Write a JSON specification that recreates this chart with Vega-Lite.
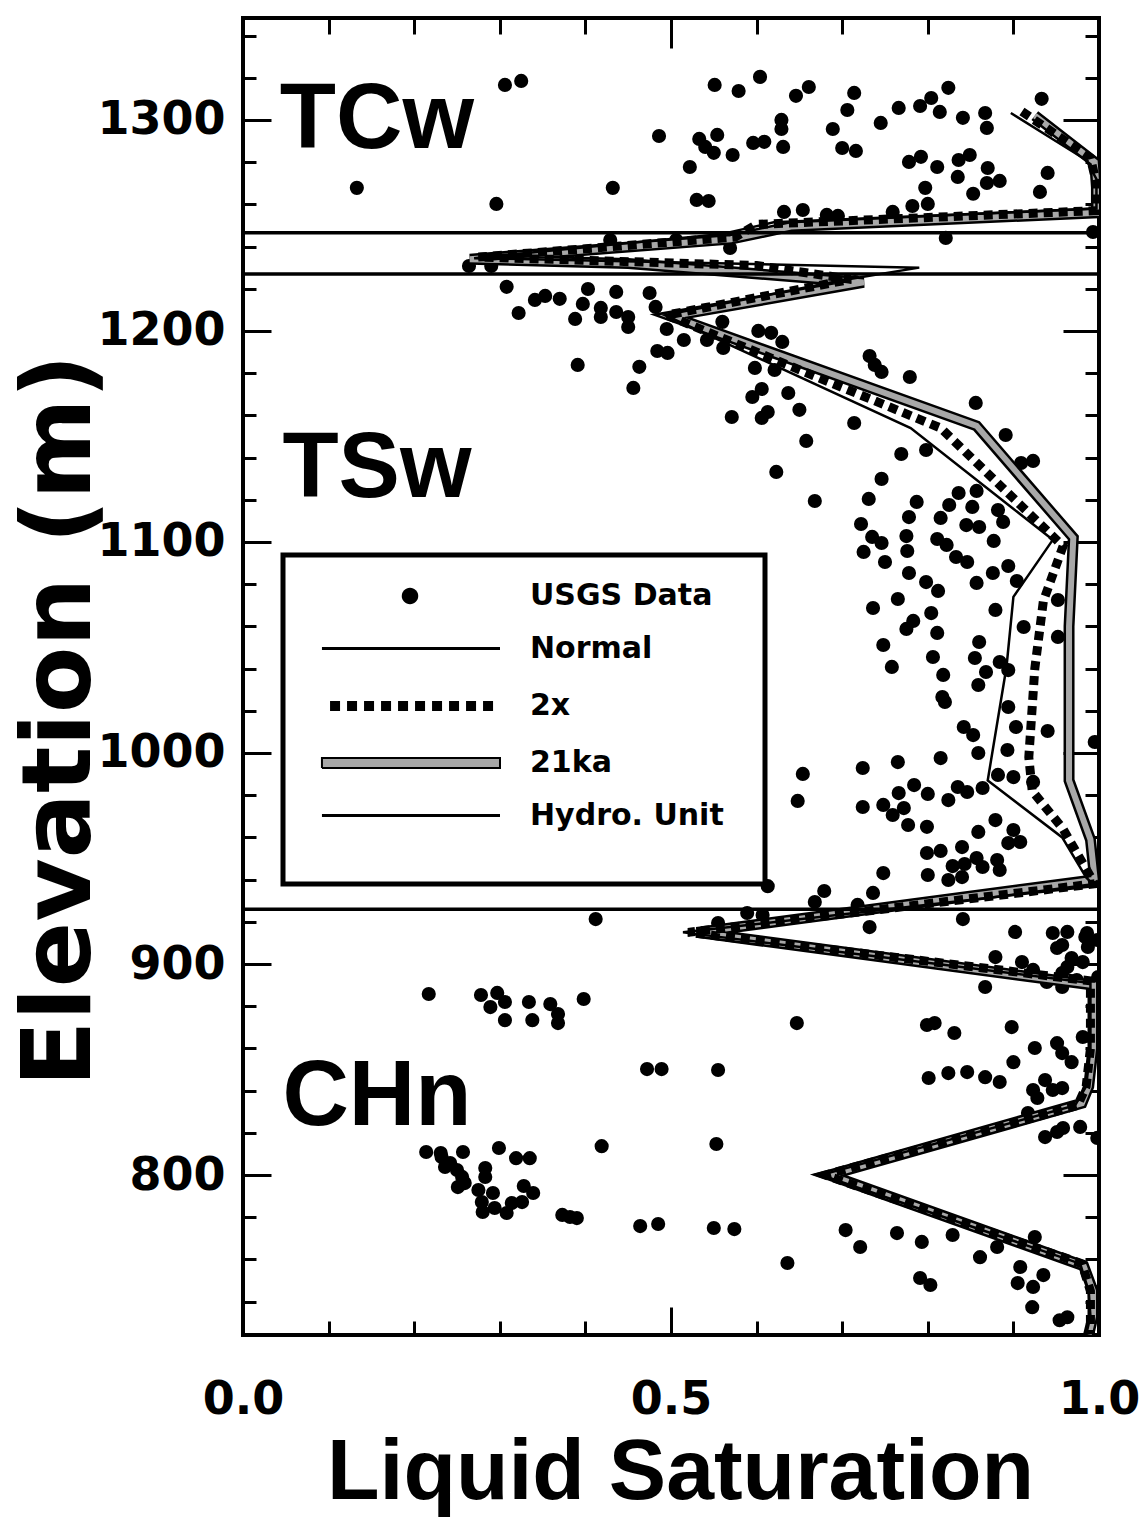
{
  "$schema": "https://vega.github.io/schema/vega-lite/v6.json",
  "width": 856,
  "height": 1317,
  "autosize": "none",
  "padding": {"left": 243, "top": 18, "right": 42, "bottom": 183},
  "background": "white",
  "config": {
    "view": {"stroke": "black", "strokeWidth": 4},
    "axis": {"domain": false, "grid": false, "tickColor": "black", "tickWidth": 3, "labelColor": "black", "titleColor": "black"},
    "legend": {"strokeWidth": 5}
  },
  "datasets": {
    "usgs": [
      {"sat":0.551,"elev":1316.6},{"sat":0.579,"elev":1313.7},{"sat":0.604,"elev":1320.4},{"sat":0.646,"elev":1311.4},{"sat":0.661,"elev":1315.6},{"sat":0.714,"elev":1312.8},{"sat":0.706,"elev":1304.7},{"sat":0.766,"elev":1305.7},{"sat":0.791,"elev":1306.6},{"sat":0.804,"elev":1310.4},{"sat":0.824,"elev":1315.2},{"sat":0.814,"elev":1303.8},{"sat":0.841,"elev":1301.0},{"sat":0.867,"elev":1303.3},{"sat":0.869,"elev":1296.2},{"sat":0.933,"elev":1310.0},{"sat":0.940,"elev":1274.9},{"sat":0.931,"elev":1265.9},{"sat":0.486,"elev":1292.4},{"sat":0.533,"elev":1291.0},{"sat":0.554,"elev":1292.9},{"sat":0.540,"elev":1287.2},{"sat":0.550,"elev":1284.4},{"sat":0.572,"elev":1283.4},{"sat":0.522,"elev":1277.7},{"sat":0.596,"elev":1289.1},{"sat":0.609,"elev":1289.6},{"sat":0.629,"elev":1300.0},{"sat":0.629,"elev":1295.7},{"sat":0.631,"elev":1287.2},{"sat":0.689,"elev":1295.7},{"sat":0.745,"elev":1298.6},{"sat":0.700,"elev":1286.7},{"sat":0.716,"elev":1285.3},{"sat":0.432,"elev":1267.8},{"sat":0.530,"elev":1262.1},{"sat":0.544,"elev":1261.6},{"sat":0.632,"elev":1256.4},{"sat":0.654,"elev":1257.3},{"sat":0.778,"elev":1280.1},{"sat":0.792,"elev":1282.5},{"sat":0.811,"elev":1277.7},{"sat":0.836,"elev":1281.0},{"sat":0.849,"elev":1283.4},{"sat":0.835,"elev":1273.0},{"sat":0.870,"elev":1277.2},{"sat":0.869,"elev":1270.1},{"sat":0.884,"elev":1271.1},{"sat":0.853,"elev":1265.0},{"sat":0.797,"elev":1267.8},{"sat":0.800,"elev":1260.2},{"sat":0.782,"elev":1259.2},{"sat":0.821,"elev":1244.1},{"sat":0.993,"elev":1246.9},{"sat":0.682,"elev":1255.0},{"sat":0.695,"elev":1254.5},{"sat":0.759,"elev":1256.4},{"sat":0.133,"elev":1267.8},{"sat":0.306,"elev":1316.6},{"sat":0.325,"elev":1318.5},{"sat":0.296,"elev":1260.2},
      {"sat":0.264,"elev":1230.8},{"sat":0.290,"elev":1230.8},{"sat":0.429,"elev":1243.1},{"sat":0.506,"elev":1243.1},{"sat":0.569,"elev":1239.3},
      {"sat":0.308,"elev":1220.9},{"sat":0.322,"elev":1208.5},{"sat":0.341,"elev":1214.7},{"sat":0.353,"elev":1216.6},{"sat":0.370,"elev":1215.2},{"sat":0.403,"elev":1219.9},{"sat":0.397,"elev":1212.8},{"sat":0.388,"elev":1205.7},{"sat":0.418,"elev":1210.9},{"sat":0.418,"elev":1206.6},{"sat":0.436,"elev":1218.5},{"sat":0.436,"elev":1209.0},{"sat":0.450,"elev":1206.6},{"sat":0.450,"elev":1201.9},{"sat":0.475,"elev":1218.0},{"sat":0.482,"elev":1211.4},{"sat":0.495,"elev":1200.9},{"sat":0.515,"elev":1195.7},{"sat":0.484,"elev":1190.5},{"sat":0.496,"elev":1189.6},{"sat":0.391,"elev":1183.9},{"sat":0.463,"elev":1183.0},{"sat":0.456,"elev":1173.0},{"sat":0.542,"elev":1195.7},{"sat":0.561,"elev":1191.9},{"sat":0.602,"elev":1200.0},{"sat":0.617,"elev":1199.1},{"sat":0.630,"elev":1194.8},{"sat":0.598,"elev":1182.5},{"sat":0.621,"elev":1181.5},{"sat":0.606,"elev":1172.5},{"sat":0.595,"elev":1168.7},{"sat":0.613,"elev":1161.6},{"sat":0.606,"elev":1158.8},{"sat":0.637,"elev":1170.6},{"sat":0.650,"elev":1162.6},{"sat":0.571,"elev":1159.2},{"sat":0.658,"elev":1147.9},{"sat":0.623,"elev":1133.2},{"sat":0.668,"elev":1119.4},{"sat":0.732,"elev":1188.1},{"sat":0.738,"elev":1183.9},{"sat":0.746,"elev":1180.6},{"sat":0.779,"elev":1178.2},{"sat":0.714,"elev":1156.4},{"sat":0.769,"elev":1141.7},{"sat":0.746,"elev":1129.9},{"sat":0.731,"elev":1120.4},{"sat":0.787,"elev":1119.0},{"sat":0.778,"elev":1111.8},{"sat":0.722,"elev":1108.5},{"sat":0.735,"elev":1102.4},{"sat":0.746,"elev":1099.5},{"sat":0.775,"elev":1102.8},{"sat":0.715,"elev":1223.2},{"sat":0.560,"elev":1204.3},
      {"sat":0.856,"elev":1165.9},{"sat":0.798,"elev":1143.6},{"sat":0.891,"elev":1150.7},{"sat":0.909,"elev":1137.4},{"sat":0.923,"elev":1138.4},{"sat":0.825,"elev":1117.5},{"sat":0.836,"elev":1123.2},{"sat":0.857,"elev":1124.2},{"sat":0.852,"elev":1116.6},{"sat":0.815,"elev":1111.4},{"sat":0.845,"elev":1108.0},{"sat":0.860,"elev":1107.1},{"sat":0.882,"elev":1115.1},{"sat":0.888,"elev":1109.5},{"sat":0.877,"elev":1100.5},{"sat":0.776,"elev":1095.7},{"sat":0.725,"elev":1095.3},{"sat":0.750,"elev":1090.5},{"sat":0.778,"elev":1085.3},{"sat":0.811,"elev":1101.4},{"sat":0.822,"elev":1098.6},{"sat":0.833,"elev":1092.9},{"sat":0.846,"elev":1090.5},{"sat":0.798,"elev":1081.0},{"sat":0.812,"elev":1076.8},{"sat":0.857,"elev":1080.6},{"sat":0.876,"elev":1085.3},{"sat":0.894,"elev":1088.6},{"sat":0.904,"elev":1081.5},{"sat":0.765,"elev":1073.0},{"sat":0.736,"elev":1068.7},{"sat":0.804,"elev":1066.3},{"sat":0.783,"elev":1062.6},{"sat":0.879,"elev":1067.8},{"sat":0.811,"elev":1056.9},{"sat":0.775,"elev":1058.8},{"sat":0.860,"elev":1052.6},{"sat":0.912,"elev":1059.7},{"sat":0.952,"elev":1055.0},{"sat":0.952,"elev":1072.5},{"sat":0.748,"elev":1051.2},{"sat":0.758,"elev":1040.8},{"sat":0.806,"elev":1045.5},{"sat":0.855,"elev":1045.0},{"sat":0.884,"elev":1043.1},{"sat":0.818,"elev":1037.0},{"sat":0.868,"elev":1038.4},{"sat":0.894,"elev":1039.3},
      {"sat":0.859,"elev":1032.2},{"sat":0.817,"elev":1026.5},{"sat":0.820,"elev":1024.2},{"sat":0.894,"elev":1021.8},{"sat":0.842,"elev":1012.3},{"sat":0.853,"elev":1008.5},{"sat":0.903,"elev":1012.3},{"sat":0.940,"elev":1010.4},{"sat":0.893,"elev":1001.4},{"sat":0.859,"elev":1000.0},{"sat":0.995,"elev":1005.2},{"sat":0.604,"elev":992.4},{"sat":0.654,"elev":990.1},{"sat":0.724,"elev":992.9},{"sat":0.765,"elev":995.7},{"sat":0.815,"elev":997.6},{"sat":0.648,"elev":977.3},{"sat":0.724,"elev":974.4},{"sat":0.748,"elev":975.4},{"sat":0.766,"elev":981.0},{"sat":0.784,"elev":984.8},{"sat":0.800,"elev":980.6},{"sat":0.759,"elev":970.6},{"sat":0.772,"elev":973.9},{"sat":0.777,"elev":965.9},{"sat":0.799,"elev":965.0},{"sat":0.824,"elev":977.7},{"sat":0.835,"elev":983.9},{"sat":0.846,"elev":981.5},{"sat":0.864,"elev":983.4},{"sat":0.882,"elev":989.6},{"sat":0.900,"elev":988.6},{"sat":0.923,"elev":986.3},{"sat":0.879,"elev":968.2},{"sat":0.859,"elev":962.6},{"sat":0.900,"elev":963.5},{"sat":0.908,"elev":957.8},{"sat":0.894,"elev":957.3},{"sat":0.881,"elev":949.3},{"sat":0.884,"elev":944.6},{"sat":0.799,"elev":952.6},{"sat":0.815,"elev":953.6},{"sat":0.840,"elev":955.4},{"sat":0.829,"elev":946.4},{"sat":0.843,"elev":947.4},{"sat":0.857,"elev":950.2},{"sat":0.864,"elev":946.0},{"sat":0.800,"elev":942.2},{"sat":0.824,"elev":939.8},{"sat":0.840,"elev":941.2},{"sat":0.748,"elev":943.1},{"sat":0.736,"elev":933.7},{"sat":0.679,"elev":934.6},{"sat":0.668,"elev":929.4},{"sat":0.613,"elev":936.9},{"sat":0.718,"elev":928.0},
      {"sat":0.841,"elev":921.3},{"sat":0.902,"elev":915.2},{"sat":0.946,"elev":914.7},{"sat":0.963,"elev":915.2},{"sat":0.986,"elev":914.7},{"sat":0.555,"elev":919.4},{"sat":0.589,"elev":924.2},{"sat":0.607,"elev":923.2},{"sat":0.732,"elev":917.5},{"sat":0.412,"elev":921.3},{"sat":0.957,"elev":909.0},{"sat":0.951,"elev":907.6},{"sat":0.984,"elev":912.8},{"sat":0.987,"elev":908.1},{"sat":0.981,"elev":900.9},{"sat":0.998,"elev":911.4},{"sat":0.879,"elev":903.3},{"sat":0.910,"elev":900.9},{"sat":0.923,"elev":897.2},{"sat":0.968,"elev":902.8},{"sat":0.963,"elev":898.6},{"sat":0.957,"elev":895.7},{"sat":0.939,"elev":891.5},{"sat":0.957,"elev":889.1},{"sat":0.974,"elev":892.4},{"sat":0.999,"elev":893.8},{"sat":0.867,"elev":889.1},
      {"sat":0.217,"elev":885.8},{"sat":0.278,"elev":885.3},{"sat":0.297,"elev":886.3},{"sat":0.289,"elev":879.6},{"sat":0.306,"elev":882.0},{"sat":0.306,"elev":873.4},{"sat":0.334,"elev":882.0},{"sat":0.338,"elev":873.4},{"sat":0.359,"elev":881.0},{"sat":0.368,"elev":876.3},{"sat":0.368,"elev":872.0},{"sat":0.398,"elev":883.4},{"sat":0.647,"elev":872.0},{"sat":0.799,"elev":871.1},{"sat":0.808,"elev":872.0},{"sat":0.831,"elev":867.3},{"sat":0.898,"elev":870.1},{"sat":0.925,"elev":860.2},{"sat":0.900,"elev":853.5},{"sat":0.951,"elev":862.5},{"sat":0.957,"elev":857.8},{"sat":0.968,"elev":853.5},{"sat":0.981,"elev":865.4},{"sat":0.472,"elev":850.2},{"sat":0.489,"elev":850.2},{"sat":0.555,"elev":849.8},{"sat":0.801,"elev":846.0},{"sat":0.824,"elev":848.3},{"sat":0.846,"elev":848.8},{"sat":0.867,"elev":846.4},{"sat":0.884,"elev":844.1},{"sat":0.923,"elev":840.3},{"sat":0.937,"elev":845.0},{"sat":0.946,"elev":840.3},{"sat":0.957,"elev":841.2},{"sat":0.928,"elev":836.5},{"sat":0.917,"elev":829.4},{"sat":0.937,"elev":818.0},{"sat":0.951,"elev":820.4},{"sat":0.958,"elev":822.3},{"sat":0.978,"elev":822.8},{"sat":0.998,"elev":817.6},
      {"sat":0.419,"elev":813.7},{"sat":0.553,"elev":814.7},{"sat":0.214,"elev":810.9},{"sat":0.231,"elev":810.4},{"sat":0.257,"elev":810.9},{"sat":0.299,"elev":812.8},{"sat":0.319,"elev":808.0},{"sat":0.335,"elev":808.0},{"sat":0.232,"elev":808.5},{"sat":0.242,"elev":805.7},{"sat":0.236,"elev":803.8},{"sat":0.250,"elev":802.4},{"sat":0.256,"elev":799.1},{"sat":0.259,"elev":796.2},{"sat":0.251,"elev":794.3},{"sat":0.283,"elev":803.3},{"sat":0.283,"elev":799.1},{"sat":0.275,"elev":792.9},{"sat":0.292,"elev":791.5},{"sat":0.279,"elev":787.2},{"sat":0.280,"elev":782.5},{"sat":0.294,"elev":784.4},{"sat":0.308,"elev":782.0},{"sat":0.314,"elev":786.7},{"sat":0.326,"elev":787.2},{"sat":0.328,"elev":794.8},{"sat":0.339,"elev":791.5},{"sat":0.373,"elev":781.1},{"sat":0.382,"elev":780.1},{"sat":0.390,"elev":779.6},{"sat":0.464,"elev":775.8},{"sat":0.485,"elev":776.8},{"sat":0.550,"elev":774.9},{"sat":0.574,"elev":774.4},{"sat":0.636,"elev":758.3},{"sat":0.704,"elev":773.9},{"sat":0.721,"elev":765.9},{"sat":0.764,"elev":772.5},{"sat":0.793,"elev":768.3},{"sat":0.829,"elev":771.6},{"sat":0.861,"elev":761.1},{"sat":0.881,"elev":765.9},{"sat":0.925,"elev":770.6},{"sat":0.791,"elev":751.2},{"sat":0.803,"elev":747.9},{"sat":0.908,"elev":756.4},{"sat":0.935,"elev":752.6},{"sat":0.905,"elev":748.8},{"sat":0.923,"elev":747.0},{"sat":0.922,"elev":737.4},{"sat":0.954,"elev":731.2},{"sat":0.963,"elev":732.6},{"sat":0.995,"elev":744.6}
    ],
    "normal": [
      {"i":1,"sat":0.897,"elev":1303.3},{"i":2,"sat":0.985,"elev":1281},{"i":3,"sat":0.997,"elev":1272},{"i":4,"sat":0.997,"elev":1258},{"i":5,"sat":0.62,"elev":1251.5},{"i":6,"sat":0.56,"elev":1246},{"i":7,"sat":0.27,"elev":1234.5},{"i":8,"sat":0.79,"elev":1230},{"i":9,"sat":0.70,"elev":1224},{"i":10,"sat":0.493,"elev":1207.5},{"i":11,"sat":0.78,"elev":1154},{"i":12,"sat":0.946,"elev":1101},{"i":13,"sat":0.90,"elev":1074},{"i":14,"sat":0.892,"elev":1041},{"i":15,"sat":0.870,"elev":987},{"i":16,"sat":0.957,"elev":960},{"i":17,"sat":0.985,"elev":941},{"i":18,"sat":0.995,"elev":937},{"i":19,"sat":0.514,"elev":915},{"i":20,"sat":0.99,"elev":891},{"i":21,"sat":0.99,"elev":860},{"i":22,"sat":0.985,"elev":842},{"i":23,"sat":0.972,"elev":833},{"i":24,"sat":0.675,"elev":800},{"i":25,"sat":0.978,"elev":758},{"i":26,"sat":0.988,"elev":745},{"i":27,"sat":0.99,"elev":733},{"i":28,"sat":0.985,"elev":724.5}
    ],
    "twox": [
      {"i":1,"sat":0.91,"elev":1304},{"i":2,"sat":0.99,"elev":1282},{"i":3,"sat":0.997,"elev":1270},{"i":4,"sat":0.997,"elev":1257},{"i":5,"sat":0.60,"elev":1250.5},{"i":6,"sat":0.575,"elev":1244.5},{"i":7,"sat":0.275,"elev":1235},{"i":8,"sat":0.60,"elev":1231},{"i":9,"sat":0.71,"elev":1224.5},{"i":10,"sat":0.495,"elev":1207.5},{"i":11,"sat":0.815,"elev":1154},{"i":12,"sat":0.958,"elev":1098},{"i":13,"sat":0.935,"elev":1072},{"i":14,"sat":0.925,"elev":1040},{"i":15,"sat":0.918,"elev":998},{"i":16,"sat":0.922,"elev":982},{"i":17,"sat":0.958,"elev":964},{"i":18,"sat":0.985,"elev":945},{"i":19,"sat":0.995,"elev":938},{"i":20,"sat":0.52,"elev":915},{"i":21,"sat":0.99,"elev":892},{"i":22,"sat":0.99,"elev":860},{"i":23,"sat":0.985,"elev":842},{"i":24,"sat":0.975,"elev":833},{"i":25,"sat":0.68,"elev":800},{"i":26,"sat":0.98,"elev":758},{"i":27,"sat":0.99,"elev":745},{"i":28,"sat":0.99,"elev":724.5}
    ],
    "ka21": [
      {"i":1,"sat":0.925,"elev":1302},{"i":2,"sat":0.995,"elev":1280},{"i":3,"sat":0.997,"elev":1268},{"i":4,"sat":0.997,"elev":1256},{"i":5,"sat":0.64,"elev":1249.5},{"i":6,"sat":0.57,"elev":1243.5},{"i":7,"sat":0.265,"elev":1234},{"i":8,"sat":0.45,"elev":1232},{"i":9,"sat":0.725,"elev":1223},{"i":10,"sat":0.50,"elev":1207},{"i":11,"sat":0.857,"elev":1155},{"i":12,"sat":0.97,"elev":1102},{"i":13,"sat":0.965,"elev":1060},{"i":14,"sat":0.965,"elev":987},{"i":15,"sat":0.99,"elev":959},{"i":16,"sat":0.995,"elev":940},{"i":17,"sat":0.53,"elev":915},{"i":18,"sat":0.993,"elev":890},{"i":19,"sat":0.993,"elev":860},{"i":20,"sat":0.988,"elev":842},{"i":21,"sat":0.98,"elev":834},{"i":22,"sat":0.685,"elev":800},{"i":23,"sat":0.982,"elev":757},{"i":24,"sat":0.993,"elev":745},{"i":25,"sat":0.993,"elev":733},{"i":26,"sat":0.988,"elev":724.5}
    ],
    "hydro": [{"elev":1246.5},{"elev":1227},{"elev":926}],
    "units": [
      {"unit":"TCw","sat":0.043,"elev":1286.7},
      {"unit":"TSw","sat":0.046,"elev":1121.3},
      {"unit":"CHn","sat":0.046,"elev":823.7}
    ]
  },
  "layer": [
    {
      "data": {"name": "usgs"},
      "mark": {"type": "circle", "size": 200, "opacity": 1, "color": "black", "clip": true},
      "encoding": {
        "x": {
          "field": "sat", "type": "quantitative",
          "scale": {"domain": [0, 1], "nice": false, "zero": false},
          "axis": {
            "orient": "bottom",
            "values": [0, 0.1, 0.2, 0.3, 0.4, 0.5, 0.6, 0.7, 0.8, 0.9, 1],
            "labelExpr": "round(datum.value*10) % 5 === 0 ? format(datum.value, '.1f') : ''",
            "tickSize": {"condition": {"test": "round(datum.value*10) % 5 === 0", "value": -28}, "value": -14},
            "labelPadding": 70,
            "labelFont": "DejaVu Sans", "labelFontSize": 46, "labelFontWeight": "bold", "labelBaseline": "top",
            "labelFlush": false, "labelOverlap": false, "labelBound": false,
            "title": "Liquid Saturation",
            "titleFont": "Liberation Sans", "titleFontSize": 86, "titleFontWeight": "bold",
            "titleX": 437, "titleY": 163, "titleBaseline": "alphabetic", "titleAlign": "center", "titleAnchor": null
          }
        },
        "y": {
          "field": "elev", "type": "quantitative",
          "scale": {"domain": [724.2, 1348.3], "nice": false, "zero": false},
          "axis": {
            "orient": "left",
            "values": [740,760,780,800,820,840,860,880,900,920,940,960,980,1000,1020,1040,1060,1080,1100,1120,1140,1160,1180,1200,1220,1240,1260,1280,1300,1320,1340],
            "labelExpr": "datum.value % 100 === 0 ? format(datum.value, 'd') : ''",
            "tickSize": {"condition": {"test": "datum.value % 100 === 0", "value": -28}, "value": -13},
            "labelPadding": 46,
            "labelFont": "DejaVu Sans", "labelFontSize": 46, "labelFontWeight": "bold", "labelBaseline": "middle",
            "labelFlush": false, "labelOverlap": false, "labelBound": false,
            "title": "Elevation (m)",
            "titleFont": "DejaVu Sans", "titleFontSize": 97, "titleFontWeight": "bold",
            "titleX": -183, "titleY": 702, "titleAngle": -90, "titleBaseline": "middle", "titleAlign": "center", "titleAnchor": null
          }
        }
      }
    },
    {
      "data": {"name": "ka21"},
      "mark": {"type": "line", "color": "black", "strokeWidth": 11, "clip": true},
      "encoding": {
        "x": {"field": "sat", "type": "quantitative", "scale": {"domain": [0, 1], "nice": false, "zero": false}, "axis": null},
        "y": {"field": "elev", "type": "quantitative", "scale": {"domain": [724.2, 1348.3], "nice": false, "zero": false}, "axis": null},
        "order": {"field": "i", "type": "quantitative"}
      }
    },
    {
      "data": {"name": "ka21"},
      "mark": {"type": "line", "color": "#a8a8a8", "strokeWidth": 6, "clip": true},
      "encoding": {
        "x": {"field": "sat", "type": "quantitative", "scale": {"domain": [0, 1], "nice": false, "zero": false}, "axis": null},
        "y": {"field": "elev", "type": "quantitative", "scale": {"domain": [724.2, 1348.3], "nice": false, "zero": false}, "axis": null},
        "order": {"field": "i", "type": "quantitative"}
      }
    },
    {
      "data": {"name": "twox"},
      "mark": {"type": "line", "color": "black", "strokeWidth": 9, "strokeDash": [9, 6], "clip": true},
      "encoding": {
        "x": {"field": "sat", "type": "quantitative", "scale": {"domain": [0, 1], "nice": false, "zero": false}, "axis": null},
        "y": {"field": "elev", "type": "quantitative", "scale": {"domain": [724.2, 1348.3], "nice": false, "zero": false}, "axis": null},
        "order": {"field": "i", "type": "quantitative"}
      }
    },
    {
      "data": {"name": "normal"},
      "mark": {"type": "line", "color": "black", "strokeWidth": 2.5, "clip": true},
      "encoding": {
        "x": {
          "field": "sat", "type": "quantitative", "scale": {"domain": [0, 1], "nice": false, "zero": false},
          "axis": {
            "orient": "top", "labels": false, "title": null,
            "values": [0, 0.1, 0.2, 0.3, 0.4, 0.5, 0.6, 0.7, 0.8, 0.9, 1],
            "tickSize": {"condition": {"test": "round(datum.value*10) % 5 === 0", "value": -30}, "value": -16}
          }
        },
        "y": {
          "field": "elev", "type": "quantitative", "scale": {"domain": [724.2, 1348.3], "nice": false, "zero": false},
          "axis": {
            "orient": "right", "labels": false, "title": null,
            "values": [740,760,780,800,820,840,860,880,900,920,940,960,980,1000,1020,1040,1060,1080,1100,1120,1140,1160,1180,1200,1220,1240,1260,1280,1300,1320,1340],
            "tickSize": {"condition": {"test": "datum.value % 100 === 0", "value": -36}, "value": -14}
          }
        },
        "order": {"field": "i", "type": "quantitative"}
      }
    },
    {
      "data": {"name": "hydro"},
      "mark": {"type": "rule", "color": "black", "strokeWidth": 3.5},
      "encoding": {
        "y": {"field": "elev", "type": "quantitative", "scale": {"domain": [724.2, 1348.3], "nice": false, "zero": false}, "axis": null}
      }
    },
    {
      "data": {"name": "units"},
      "mark": {"type": "text", "font": "Liberation Sans", "fontSize": 92, "fontWeight": "bold", "align": "left", "baseline": "alphabetic", "color": "black"},
      "encoding": {
        "x": {"field": "sat", "type": "quantitative", "scale": {"domain": [0, 1], "nice": false, "zero": false}, "axis": null},
        "y": {"field": "elev", "type": "quantitative", "scale": {"domain": [724.2, 1348.3], "nice": false, "zero": false}, "axis": null},
        "text": {"field": "unit", "type": "nominal"}
      }
    },
    {
      "data": {"name": "hydro"},
      "mark": {"type": "point", "filled": true, "opacity": 0},
      "encoding": {
        "fill": {
          "datum": "USGS Data", "type": "nominal",
          "scale": {"domain": ["USGS Data", "Normal", "2x", "21ka", "Hydro. Unit"], "range": ["black", "black", "black", "#a8a8a8", "black"]},
          "legend": {
            "orient": "none", "legendX": 40, "legendY": 537, "direction": "vertical",
            "title": " ", "titleOrient": "bottom", "titleFontSize": 8, "titlePadding": 4,
            "padding": 41, "rowPadding": 22, "symbolSize": 900, "labelOffset": 166, "symbolOpacity": 1,
            "labelFont": "DejaVu Sans", "labelFontSize": 30, "labelFontWeight": "bold", "labelColor": "black", "labelLimit": 400,
            "labelBaseline": "bottom",
            "fillColor": "white", "strokeColor": "black"
          }
        },
        "stroke": {
          "datum": "USGS Data", "type": "nominal",
          "scale": {"domain": ["USGS Data", "Normal", "2x", "21ka", "Hydro. Unit"], "range": ["black", "black", "black", "black", "black"]}
        },
        "shape": {
          "datum": "USGS Data", "type": "nominal",
          "scale": {"domain": ["USGS Data", "Normal", "2x", "21ka", "Hydro. Unit"], "range": [
            "M3.85,-1A0.55,0.55,0,1,0,4.95,-1A0.55,0.55,0,1,0,3.85,-1Z",
            "M-1.47,-1L10.4,-1",
            "M-0.93,-1L10.2,-1",
            "M-1.47,-1.33L10.4,-1.33L10.4,-0.67L-1.47,-0.67Z",
            "M-1.47,-1L10.4,-1"
          ]}
        },
        "strokeWidth": {
          "datum": "USGS Data", "type": "nominal",
          "scale": {"type": "ordinal", "domain": ["USGS Data", "Normal", "2x", "21ka", "Hydro. Unit"], "range": [0, 3, 10, 2, 3]}
        },
        "strokeDash": {
          "datum": "USGS Data", "type": "nominal",
          "scale": {"domain": ["USGS Data", "Normal", "2x", "21ka", "Hydro. Unit"], "range": [[1, 0], [1, 0], [10, 7], [1, 0], [1, 0]]}
        }
      }
    }
  ],
  "resolve": {"axis": {"x": "independent", "y": "independent"}}
}
